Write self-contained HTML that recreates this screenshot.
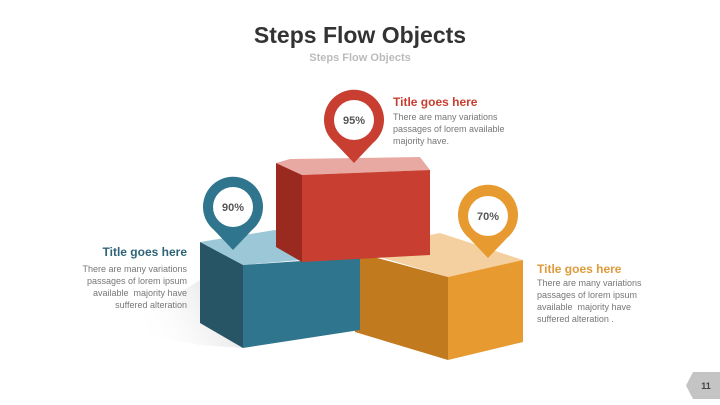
<!DOCTYPE html>
<html><head><meta charset="utf-8"><style>
html,body{margin:0;padding:0;background:#fff;}
svg{display:block;font-family:"Liberation Sans",Arial,sans-serif;}
</style></head><body>
<svg width="720" height="405" viewBox="0 0 720 405" xmlns="http://www.w3.org/2000/svg">
<defs>
<linearGradient id="sh" x1="1" y1="0" x2="0" y2="0.3">
<stop offset="0" stop-color="#ccc" stop-opacity="0.8"/><stop offset="1" stop-color="#fff" stop-opacity="0"/>
</linearGradient>
</defs>
<text x="360" y="43" text-anchor="middle" font-size="23" font-weight="bold" fill="#333">Steps Flow Objects</text>
<text x="360" y="61" text-anchor="middle" font-size="11" font-weight="bold" fill="#bbb">Steps Flow Objects</text>

<polygon points="200,280 243,348 200,345 120,330" fill="url(#sh)"/>

<polygon points="355,250 440,233 523,260 448,277" fill="#f4cfa0"/>
<polygon points="355,252 448,277 448,360 355,332" fill="#c27a1e"/>
<polygon points="448,277 523,260 523,342 448,360" fill="#e69a30"/>

<polygon points="200,242 275,230 360,255 243,265" fill="#9bc7d6"/>
<polygon points="200,242 243,265 243,348 200,323" fill="#275566"/>
<polygon points="243,265 360,257 360,330 243,348" fill="#2f758d"/>

<polygon points="276,163 290,159 420,157 430,170 302,175" fill="#e8a9a3"/>
<polygon points="276,163 302,175 302,262 276,247" fill="#9a2a20"/>
<polygon points="302,175 430,170 430,255 302,262" fill="#c83f31"/>

<g>
<path d="M354,163 L335,143 A30,30 0 1 1 373,143 Z" fill="#c83f31"/>
<circle cx="354" cy="120" r="20" fill="#fff"/>
<text x="354" y="124" text-anchor="middle" font-size="11" font-weight="bold" fill="#555">95%</text>
</g>
<g>
<path d="M233,250 L214,230 A30,30 0 1 1 252,230 Z" fill="#2f758d"/>
<circle cx="233" cy="207" r="20" fill="#fff"/>
<text x="233" y="211" text-anchor="middle" font-size="11" font-weight="bold" fill="#555">90%</text>
</g>
<g>
<path d="M488,258 L469,238 A30,30 0 1 1 507,238 Z" fill="#e69a30"/>
<circle cx="488" cy="216" r="20" fill="#fff"/>
<text x="488" y="220" text-anchor="middle" font-size="11" font-weight="bold" fill="#555">70%</text>
</g>

<text x="393" y="106" font-size="12" font-weight="bold" fill="#c83f31">Title goes here</text>
<g font-size="9" fill="#777">
<text x="393" y="120">There are many variations</text>
<text x="393" y="132">passages of lorem available</text>
<text x="393" y="144">majority have.</text>
</g>
<text x="187" y="256" text-anchor="end" font-size="12" font-weight="bold" fill="#2f6478">Title goes here</text>
<g font-size="9" fill="#777" text-anchor="end">
<text x="187" y="272">There are many variations</text>
<text x="187" y="284">passages of lorem ipsum</text>
<text x="187" y="296">available&#160; majority have</text>
<text x="187" y="308">suffered alteration</text>
</g>
<text x="537" y="273" font-size="12" font-weight="bold" fill="#e09a3a">Title goes here</text>
<g font-size="9" fill="#777">
<text x="537" y="286">There are many variations</text>
<text x="537" y="298">passages of lorem ipsum</text>
<text x="537" y="310">available&#160; majority have</text>
<text x="537" y="322">suffered alteration .</text>
</g>

<polygon points="693,372 720,372 720,399 693,399 686,385.5" fill="#c4c4c4"/>
<text x="706" y="389" text-anchor="middle" font-size="9" font-weight="bold" fill="#444">11</text>
</svg>
</body></html>
